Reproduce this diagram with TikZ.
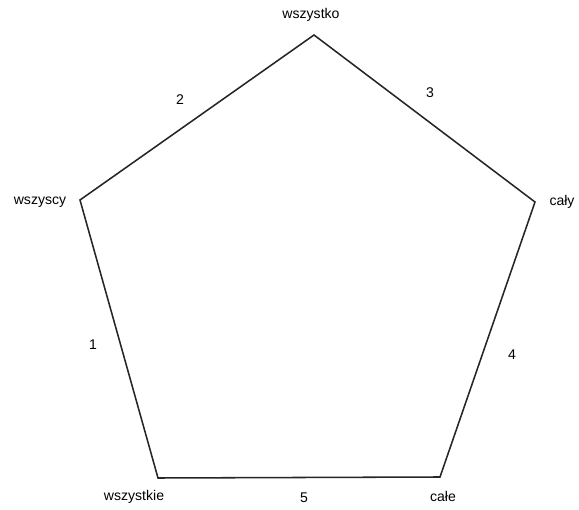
\documentclass[tikz,border=0pt]{standalone}
\usepackage{fontspec}
\setmainfont{Liberation Sans}
\usetikzlibrary{positioning}

\begin{document}
\begin{tikzpicture}[x=0.025cm, y=-0.025cm,
  word/.style={font=\normalsize, inner sep=1pt},
  num/.style={font=\normalsize, inner sep=1pt},
  side/.style={draw=black!85, line width=1.1pt, line join=miter}
]
  \useasboundingbox (0,0) rectangle (579,510);

  %--- corners ---
  \coordinate (top) at (314, 35);
  \coordinate (lft) at (80, 200);
  \coordinate (rgt) at (535, 202);
  \coordinate (bl)  at (158, 478);
  \coordinate (br)  at (440, 477);

  %--- pentagon ---
  \draw[side] (lft) -- (top) -- (rgt) -- (br) -- (bl) -- cycle;

  %--- words ---
  \node[word] (wszystko)  at (311, 15)  {wszystko};
  \node[word] (wszyscy)   at (40, 202)  {wszyscy};
  \node[word] (caly)      at (562, 202) {cały};
  \node[word] (wszystkie) at (134, 497) {wszystkie};
  \node[word] (cale)      at (443, 496) {całe};

  %--- numbers ---
  \node[num] (n1) at (93, 345)  {1};
  \node[num] (n2) at (180, 100) {2};
  \node[num] (n3) at (430, 93)  {3};
  \node[num] (n4) at (512, 355) {4};
  \node[num] (n5) at (304, 498) {5};

\end{tikzpicture}
\end{document}
